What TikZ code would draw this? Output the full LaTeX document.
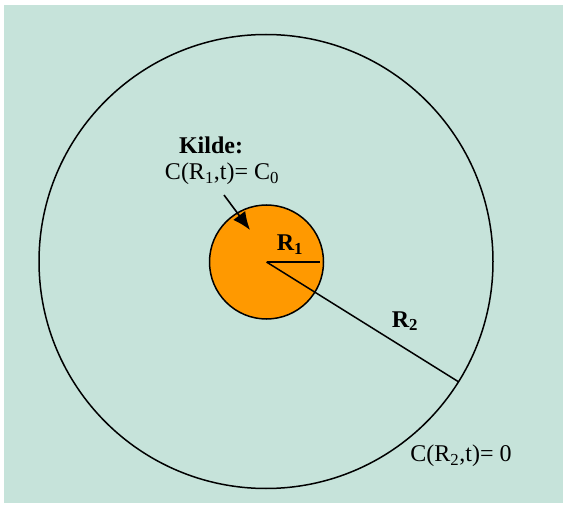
\documentclass[tikz,border=0pt]{standalone}
\usepackage{fontspec}
\setmainfont{Liberation Serif}
\usetikzlibrary{arrows.meta}
\definecolor{bgc}{HTML}{C6E3DA}
\definecolor{src}{HTML}{FF9900}
\begin{document}
\begin{tikzpicture}[x=1pt,y=-1pt,
  lbl/.style={font=\fontsize{24}{27}\selectfont, anchor=base, inner sep=0pt},
  blbl/.style={lbl, font=\fontsize{24}{27}\selectfont\bfseries},
  ring/.style={circle, draw=black, line width=1.5pt, inner sep=0pt, outer sep=0pt}]
\useasboundingbox (0,0) rectangle (565,505);
\fill[white] (0,0) rectangle (565,505);
\fill[bgc] (4,5) rectangle (563,503);
\node[ring, minimum size=454pt] (big) at (266,261.5) {};
\node[ring, fill=src, minimum size=114pt] (small) at (266.5,262) {};
\coordinate (r1end) at (320,262);
\draw[line width=1.9pt] (small.center) -- (r1end);
\draw[line width=1.5pt] (small.center) -- (big.-32.8);
\node[blbl] (kilde) at (211,154) {Kilde:};
\node[lbl] (cr1) at (222,180) {C(R\textsubscript{1},t)= C\textsubscript{0}};
\node[blbl] (r1) at (290,250.5) {R\textsubscript{1}};
\node[blbl] (r2) at (405,327) {R\textsubscript{2}};
\node[lbl] (cr2) at (461,461.5) {C(R\textsubscript{2},t)= 0};
\coordinate (astart) at (224,195);
\coordinate (aend) at (250,230);
\draw[line width=1.6pt, -{Latex[length=18pt,width=15pt]}] (astart) -- (aend);
\end{tikzpicture}
\end{document}
